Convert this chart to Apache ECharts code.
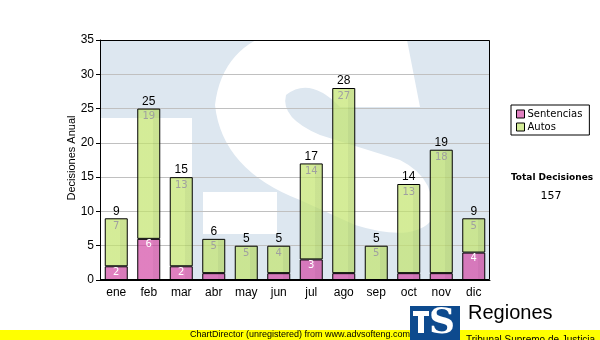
<!DOCTYPE html>
<html>
<head>
<meta charset="utf-8">
<script src="https://cdn.jsdelivr.net/npm/echarts@6/dist/echarts.min.js"></script>
<style>html,body{margin:0;padding:0;background:#fff}#c{width:600px;height:340px}</style>
</head>
<body>
<div id="c"></div>
<script>
var months = ['ene','feb','mar','abr','may','jun','jul','ago','sep','oct','nov','dic'];
var sentencias = [2, 6, 2, 1, 0, 1, 3, 1, 0, 1, 1, 4];
var autos = [7, 19, 13, 5, 5, 4, 14, 27, 5, 13, 18, 5];
var yTicks = [0, 5, 10, 15, 20, 25, 30, 35];
var totalLabel = 'Total Decisiones';

var totals = months.map(function (m, i) { return sentencias[i] + autos[i]; });
var grandTotal = totals.reduce(function (a, b) { return a + b; }, 0);

function grad(light, dark) {
  return new echarts.graphic.LinearGradient(0, 0, 1, 0, [
    {offset: 0, color: light}, {offset: 0.68, color: light},
    {offset: 0.68, color: dark}, {offset: 1, color: dark}
  ]);
}
var greenFill = grad('rgba(194,228,108,0.7)', 'rgba(180,214,100,0.7)');
var pinkFill = grad('rgba(211,74,165,0.7)', 'rgba(200,66,156,0.7)');

var sPath = 'M282,30 L420,30 L407,40 L420,107 L340,107 Q310,76 286,95 Q280,118 320,135 L400,160 Q440,180 430,222 Q410,242 355,225 L300,200 Q222,170 215,105 Q222,45 282,30 Z';
var SShape = echarts.graphic.extendPath(sPath, {});
echarts.graphic.registerShape('sWatermark', SShape);

var chart = echarts.init(document.getElementById('c'), null, {renderer: 'canvas'});
var font = 'Liberation Sans, Arial, sans-serif';
chart.setOption({
  animation: false,
  backgroundColor: '#ffffff',
  grid: {left: 100, top: 40, width: 390, height: 240, show: false},
  legend: {
    data: [{name: 'Sentencias', itemStyle: {color: '#e080c0', borderColor: '#000', borderWidth: 1}},
           {name: 'Autos', itemStyle: {color: '#d4ec98', borderColor: '#000', borderWidth: 1}}],
    orient: 'vertical', left: 511, top: 105,
    padding: [4, 7, 3, 5], itemGap: 3, itemWidth: 8, itemHeight: 8,
    borderColor: '#000', borderWidth: 1, icon: 'rect',
    textStyle: {fontFamily: 'DejaVu Sans', fontSize: 10, color: '#000', padding: [0, 0, 0, -2]}
  },
  xAxis: {
    type: 'category', data: months,
    axisLine: {lineStyle: {color: '#000', width: 1}},
    axisTick: {alignWithLabel: true, length: 3, lineStyle: {color: '#000'}},
    axisLabel: {color: '#000', fontFamily: font, fontSize: 12, margin: 7}
  },
  yAxis: {
    type: 'value', min: yTicks[0], max: yTicks[yTicks.length - 1], interval: 5,
    axisLine: {show: true, lineStyle: {color: '#000', width: 1}},
    axisTick: {show: true, length: 4, lineStyle: {color: '#000'}},
    axisLabel: {color: '#000', fontFamily: font, fontSize: 12, margin: 6},
    splitLine: {lineStyle: {color: '#c0c0c0', width: 1}}
  },
  graphic: [
    {type: 'rect', z: -10, shape: {x: 100, y: 40, width: 390, height: 240}, style: {fill: '#dde7f0'}},
    {type: 'rect', z: -9, shape: {x: 100, y: 118, width: 92, height: 162}, style: {fill: '#ffffff'}},
    {type: 'rect', z: -9, shape: {x: 203, y: 192, width: 74, height: 42}, style: {fill: '#ffffff'}},
    {type: 'sWatermark', z: -9, style: {fill: '#ffffff'}},
    {type: 'rect', z: 3, shape: {x: 100.5, y: 40.5, width: 389, height: 239}, style: {fill: 'none', stroke: '#000', lineWidth: 1}},
    {type: 'text', x: 72, y: 158, rotation: Math.PI / 2, style: {text: 'Decisiones Anual', fill: '#000', font: '11px Liberation Sans', textAlign: 'center', textVerticalAlign: 'middle'}},
    {type: 'text', x: 552, y: 178, style: {text: totalLabel, fill: '#000', font: 'bold 9px DejaVu Sans', textAlign: 'center', textVerticalAlign: 'middle'}},
    {type: 'text', x: 551, y: 196, style: {text: String(grandTotal), fill: '#000', font: '11px DejaVu Sans', textAlign: 'center', textVerticalAlign: 'middle'}},
    {type: 'rect', shape: {x: 0, y: 330, width: 600, height: 10}, style: {fill: '#ffff00'}},
    {type: 'text', x: 190, y: 335, style: {text: 'ChartDirector (unregistered) from www.advsofteng.com', fill: '#000', font: '9px Liberation Sans', textVerticalAlign: 'middle'}},
    {type: 'rect', z: 5, shape: {x: 410, y: 306, width: 50, height: 34}, style: {fill: '#0d4a8e'}},
    {type: 'rect', z: 6, shape: {x: 413, y: 311, width: 16, height: 5}, style: {fill: '#fff'}},
    {type: 'rect', z: 6, shape: {x: 418, y: 311, width: 6, height: 22}, style: {fill: '#fff'}},
    {type: 'text', z: 6, x: 442, y: 324, style: {text: 'S', fill: '#fff', font: 'bold 36px DejaVu Serif', textAlign: 'center', textVerticalAlign: 'middle'}},
    {type: 'text', z: 6, x: 468, y: 323, style: {text: 'Regiones', fill: '#000', font: '20px Liberation Sans', textVerticalAlign: 'bottom'}},
    {type: 'text', z: 6, x: 466, y: 335, style: {text: 'Tribunal Supremo de Justicia', fill: '#000', font: '10px Liberation Sans', textVerticalAlign: 'top'}}
  ],
  series: [
    {
      name: 'Sentencias', type: 'bar', stack: 't', barWidth: 23, data: sentencias,
      itemStyle: {color: pinkFill, borderColor: '#000', borderWidth: 1},
      label: {show: true, position: 'insideTop', distance: 1, color: '#fff', fontFamily: 'DejaVu Sans', fontSize: 10,
        formatter: function (p) { return p.value >= 2 ? String(p.value) : ''; }}
    },
    {
      name: 'Autos', type: 'bar', stack: 't', barWidth: 23, data: autos,
      itemStyle: {color: greenFill, borderColor: '#000', borderWidth: 1},
      label: {show: true, position: 'insideTop', distance: 3, color: '#a0a0a0', fontFamily: 'DejaVu Sans', fontSize: 10}
    },
    {
      name: 'Total', type: 'bar', stack: 't', barWidth: 23, data: months.map(function () { return 0; }),
      itemStyle: {color: 'transparent', borderWidth: 0}, silent: true,
      label: {show: true, position: 'top', distance: 1, color: '#000', fontFamily: font, fontSize: 12,
        formatter: function (p) { return String(totals[p.dataIndex]); }}
    }
  ]
});
</script>
</body>
</html>
